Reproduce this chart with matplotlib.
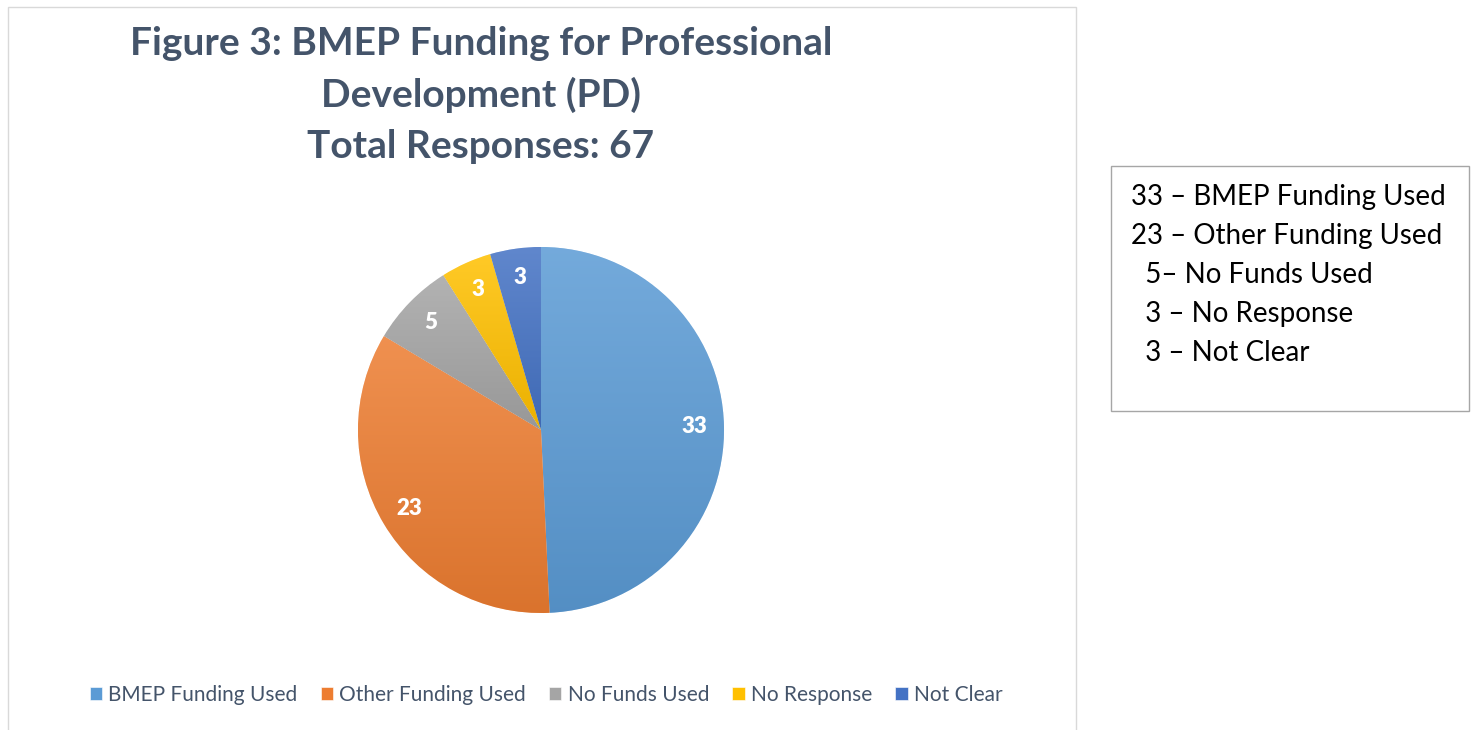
import matplotlib.pyplot as plt
import matplotlib.colors as mcolors
from matplotlib.patches import Rectangle
import numpy as np

plt.rcParams['font.family'] = ['Lato', 'DejaVu Sans']

categories = ['BMEP Funding Used', 'Other Funding Used', 'No Funds Used', 'No Response', 'Not Clear']
counts = [33, 23, 5, 3, 3]
colors = ['#5B9BD5', '#ED7D31', '#A5A5A5', '#FFC000', '#4472C4']
title = 'Figure 3: BMEP Funding for Professional\nDevelopment (PD)\nTotal Responses: 67'
box_lines = ['33 – BMEP Funding Used', '23 – Other Funding Used', '  5– No Funds Used',
             '  3 – No Response', '  3 – Not Clear']

W, H = 1476, 730
fig = plt.figure(figsize=(W / 100, H / 100), dpi=100)

# chart area border
fig.patches.append(Rectangle((8 / W, -0.01), 1068 / W, (H - 7) / H + 0.01,
                             transform=fig.transFigure, fill=False, edgecolor='#D9D9D9', lw=1))
# side text box
fig.patches.append(Rectangle((1111 / W, 1 - 411 / H), 358 / W, 245 / H,
                             transform=fig.transFigure, fill=False, edgecolor='#A6A6A6', lw=1))

r = 183
m = 1.02
ax = fig.add_axes([(541 - r * m) / W, (H - 430 - r * m) / H, 2 * r * m / W, 2 * r * m / H])

wedges, texts, autotexts = ax.pie(counts, colors=colors, startangle=90, counterclock=False,
                                  autopct=lambda p: '%d' % round(p * sum(counts) / 100),
                                  pctdistance=0.84,
                                  wedgeprops=dict(edgecolor='white', linewidth=0.4))

# vertical gradient fill per wedge (lighter on top, darker at bottom)
for w, c in zip(wedges, colors):
    rgb = np.array(mcolors.to_rgb(c))
    top = rgb + (1 - rgb) * 0.15
    bot = rgb * 0.92
    cmap = mcolors.LinearSegmentedColormap.from_list('g', [bot, top])
    bb = w.get_path().get_extents(w.get_patch_transform())
    grad = np.linspace(0, 1, 256).reshape(-1, 1)
    im = ax.imshow(grad, cmap=cmap, origin='lower', aspect='auto',
                   extent=[bb.x0, bb.x1, bb.y0, bb.y1], zorder=w.get_zorder() + 0.1)
    im.set_clip_path(w)
for t in autotexts:
    t.set_zorder(5)
    t.set_color('white')
    t.set_fontsize(16)
    t.set_fontweight('heavy')

ax.set_xlim(-m, m)
ax.set_ylim(-m, m)
ax.set_aspect('equal')
ax.axis('off')

fig.text(481 / W, 1 - 95 / H, title, ha='center', va='center', fontsize=28,
         fontweight='bold', color='#44546A', linespacing=1.55)

fig.legend(wedges, categories, loc='center', bbox_to_anchor=(546 / W, 1 - 695 / H), ncol=5,
           frameon=False, fontsize=15, handlelength=0.6, handleheight=0.6,
           handletextpad=0.3, columnspacing=1.1, labelcolor='#44546A')

for i, line in enumerate(box_lines):
    fig.text(1131 / W, 1 - (197 + 39 * i) / H, line, ha='left', va='center',
             fontsize=20, color='black')

fig.savefig('out.png', dpi=100)
